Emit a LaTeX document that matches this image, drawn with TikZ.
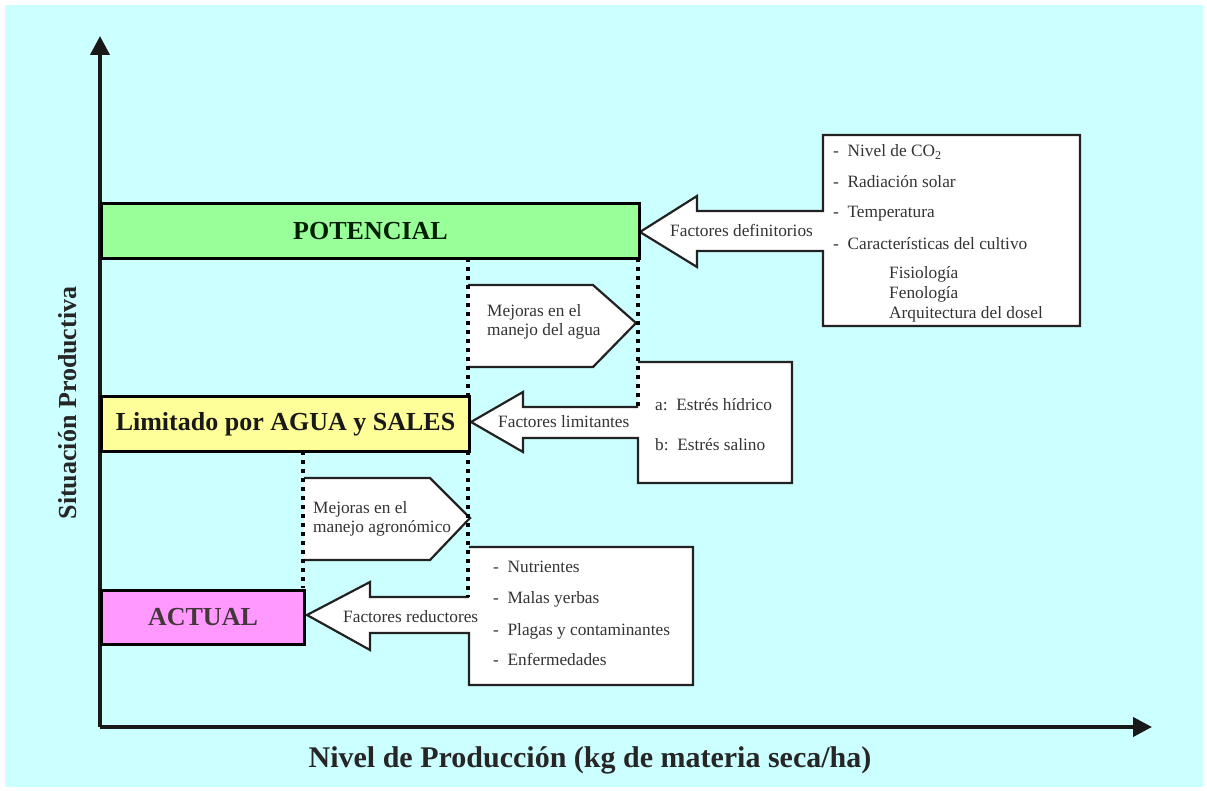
\documentclass[tikz,border=0pt]{standalone}
\usepackage{fontspec}
\setmainfont{Liberation Serif}
\usetikzlibrary{arrows.meta}
\definecolor{bgc}{HTML}{CCFFFF}
\definecolor{potc}{HTML}{99FF99}
\definecolor{limc}{HTML}{FFFF99}
\definecolor{actc}{HTML}{FF99FF}
\definecolor{txtc}{HTML}{333333}
\definecolor{linec}{HTML}{222222}
\begin{document}
\begin{tikzpicture}[x=1pt,y=-1pt,
  lbl/.style={font=\fontsize{17.3}{20}\selectfont, text=txtc, inner sep=0pt, anchor=base west},
  barbox/.style={draw=black, line width=3pt, anchor=north west, inner sep=0pt,
    font=\fontsize{26}{30}\selectfont\bfseries},
  dots/.style={draw=black, line width=4.5pt, dash pattern=on 4pt off 5pt},
  callout/.style={draw=linec, line width=2.2pt, line join=miter},
  axis/.style={draw=black!90, line width=4pt, -{Triangle[length=19pt,width=19pt]}}]
\useasboundingbox (0,0) rectangle (1207,791);
\fill[white] (0,0) rectangle (1207,791);
\fill[bgc] (5,5) rectangle (1203,787);

% axes
\coordinate (O) at (100,727);
\coordinate (ytop) at (100,36);
\coordinate (xend) at (1152,727);
\draw[axis] (O) -- (ytop);
\draw[axis] (O) -- (xend);
\node[font=\fontsize{26}{30}\selectfont\bfseries, text=black!85, rotate=90, inner sep=0pt] (ylab) at (68,403) {Situación Productiva};
\node[font=\fontsize{30}{32}\selectfont\bfseries, text=black!85, inner sep=0pt] (xlab) at (590,760) {Nivel de Producción (kg de materia seca/ha)};

% callout: factores definitorios
\filldraw[callout, fill=white] (640,232) -- (697,196) -- (697,211) -- (823,211) -- (823,135)
  -- (1080,135) -- (1080,326) -- (823,326) -- (823,251) -- (697,251) -- (697,267) -- cycle;
\node[lbl] (fdef) at (670,237) {Factores definitorios};
\node[lbl] (d1) at (833,157) {-\ \ Nivel de CO\textsubscript{2}};
\node[lbl] (d2) at (833,188) {-\ \ Radiación solar};
\node[lbl] (d3) at (833,218) {-\ \ Temperatura};
\node[lbl] (d4) at (833,250) {-\ \ Características del cultivo};
\node[lbl] (d5) at (889,279) {Fisiología};
\node[lbl] (d6) at (889,299) {Fenología};
\node[lbl] (d7) at (889,319) {Arquitectura del dosel};

% callout: factores limitantes
\fill[white] (638,362) -- (792,362) -- (792,483) -- (638,483) -- (638,438) -- (523,438)
  -- (523,452) -- (471,422) -- (523,392) -- (523,407) -- (638,407) -- cycle;
\draw[callout] (638,362) -- (792,362) -- (792,483) -- (638,483) -- (638,438) -- (523,438)
  -- (523,452) -- (471,422) -- (523,392) -- (523,407) -- (638,407);
\node[lbl] (flim) at (498,427) {Factores limitantes};
\node[lbl] (l1) at (655,410) {a:\ \ Estrés hídrico};
\node[lbl] (l2) at (655,450) {b:\ \ Estrés salino};

% callout: factores reductores
\fill[white] (469,547) -- (693,547) -- (693,685) -- (469,685) -- (469,633) -- (370,633)
  -- (370,650) -- (307,615) -- (370,582) -- (370,597) -- (469,597) -- cycle;
\draw[callout] (469,547) -- (693,547) -- (693,685) -- (469,685) -- (469,633) -- (370,633)
  -- (370,650) -- (307,615) -- (370,582) -- (370,597) -- (469,597);
\node[lbl] (fred) at (343,622) {Factores reductores};
\node[lbl] (r1) at (493,572) {-\ \ Nutrientes};
\node[lbl] (r2) at (493,603) {-\ \ Malas yerbas};
\node[lbl] (r3) at (493,635) {-\ \ Plagas y contaminantes};
\node[lbl] (r4) at (493,665) {-\ \ Enfermedades};

% pentagon: mejoras en el manejo del agua
\fill[white] (468,285) -- (593,285) -- (636,323) -- (593,367) -- (468,367) -- cycle;
\draw[callout] (468,285) -- (593,285) -- (636,323) -- (593,367) -- (468,367);
\node[lbl] (ma1) at (487,317) {Mejoras en el};
\node[lbl] (ma2) at (487,336) {manejo del agua};

% pentagon: mejoras en el manejo agronomico
\fill[white] (304,478) -- (430,478) -- (470,518) -- (430,560) -- (304,560) -- cycle;
\draw[callout] (304,478) -- (430,478) -- (470,518) -- (430,560) -- (304,560);
\node[lbl] (mg1) at (313,513) {Mejoras en el};
\node[lbl] (mg2) at (313,532) {manejo agronómico};

% dotted lines
\draw[dots] (468,258) -- (468,395);
\draw[dots] (638,258) -- (638,407);
\draw[dots] (303,451) -- (303,588);
\draw[dots] (468,451) -- (468,597);

% level boxes
\node[barbox, fill=potc, text=black!80!green!60!black, minimum width=538pt, minimum height=55pt] (pot) at (100,202) {POTENCIAL};
\node[barbox, fill=limc, text=black!90, minimum width=368pt, minimum height=55pt] (lim) at (100,395) {Limitado por AGUA y SALES};
\node[barbox, fill=actc, text=black!70!magenta!50!black, minimum width=203pt, minimum height=54pt] (act) at (100,589) {ACTUAL};
\end{tikzpicture}
\end{document}
